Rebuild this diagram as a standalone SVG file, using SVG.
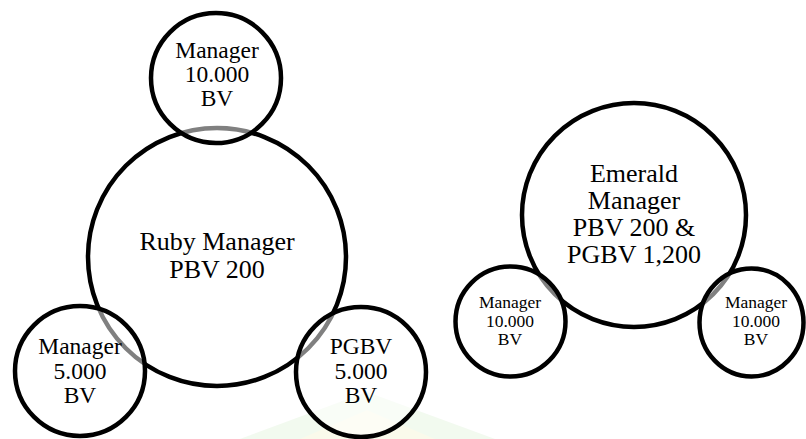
<svg xmlns="http://www.w3.org/2000/svg" width="806" height="439" viewBox="0 0 806 439">
<style>
.big{fill:#ffffff;stroke:#000;stroke-width:4.5}
.sm{fill:#ffffff;fill-opacity:0.5;stroke:#000;stroke-width:4.5}
text{font-family:"Liberation Serif","Times New Roman",serif;fill:#000;text-anchor:middle}
.t26{font-size:26px}
.t24{font-size:23.5px}
.t18{font-size:17.5px}
</style>
<rect width="806" height="439" fill="#ffffff"/>
<g id="watermark" opacity="0.6">
<polygon points="367,392 240,439 495,439" fill="#eaf7e6"/>
<polygon points="367,410 300,439 435,439" fill="#f7f8de"/>
</g>
<g id="ruby">
<circle class="big" cx="217" cy="257" r="129"/>
<text class="t26" x="217" y="250">Ruby Manager</text>
<text class="t26" x="217" y="278">PBV 200</text>
</g>
<g id="top-manager">
<circle class="sm" cx="216" cy="78" r="65"/>
<text class="t24" x="217" y="58">Manager</text>
<text class="t24" x="217" y="82">10.000</text>
<text class="t24" x="217" y="106">BV</text>
</g>
<g id="left-manager">
<circle class="sm" cx="80" cy="371" r="65"/>
<text class="t24" x="80" y="354">Manager</text>
<text class="t24" x="80" y="378.5">5.000</text>
<text class="t24" x="80" y="403">BV</text>
</g>
<g id="pgbv">
<circle class="sm" cx="361" cy="372" r="65"/>
<text class="t24" x="361" y="354">PGBV</text>
<text class="t24" x="361" y="378.5">5.000</text>
<text class="t24" x="361" y="403">BV</text>
</g>
<g id="emerald">
<circle class="big" cx="634" cy="215" r="112"/>
<text class="t26" x="634" y="182">Emerald</text>
<text class="t26" x="634" y="209">Manager</text>
<text class="t26" x="634" y="236">PBV 200 &amp;</text>
<text class="t26" x="634" y="263">PGBV 1,200</text>
</g>
<g id="em-left-manager">
<circle class="sm" cx="510.5" cy="321.5" r="55"/>
<text class="t18" x="510" y="308">Manager</text>
<text class="t18" x="510" y="326.5">10.000</text>
<text class="t18" x="510" y="345">BV</text>
</g>
<g id="em-right-manager">
<ellipse class="sm" cx="751.5" cy="322.5" rx="52" ry="54"/>
<text class="t18" x="756" y="308">Manager</text>
<text class="t18" x="756" y="326.5">10.000</text>
<text class="t18" x="756" y="345">BV</text>
</g>
<g id="connectors"></g>
</svg>
